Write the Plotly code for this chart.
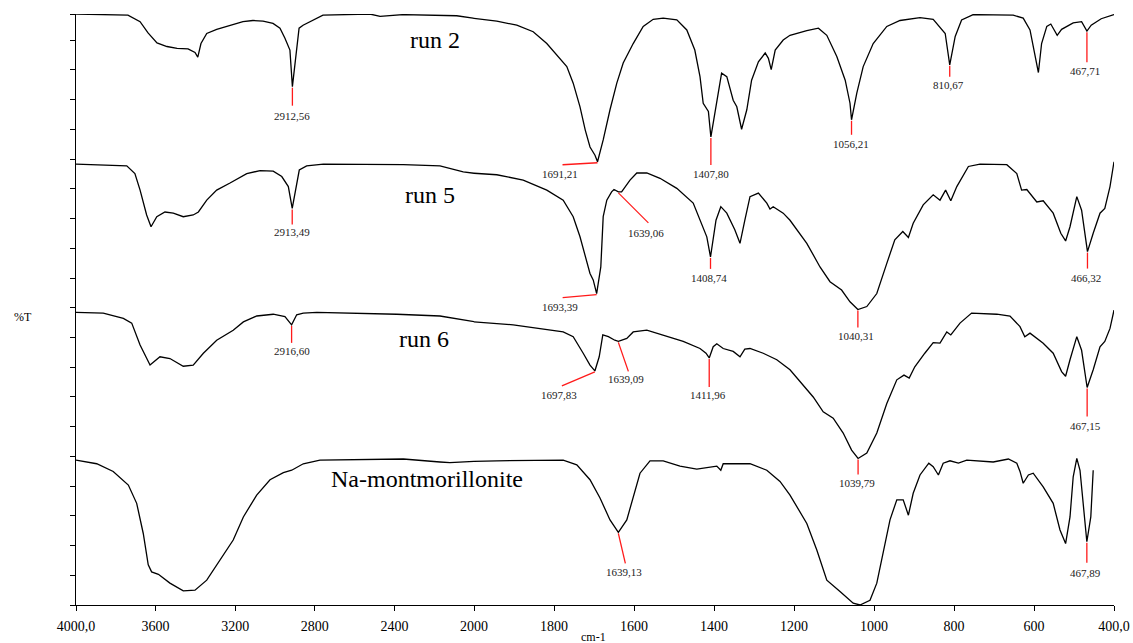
import plotly.graph_objects as go

# ---------------- data (wavenumber cm-1, %T with vertical offsets) ----------------
run2_wn = [4000, 3739, 3678, 3638, 3593, 3543, 3492, 3437, 3402, 3388, 3372, 3343, 3293, 3226, 3161, 3111,
           3060, 3010, 2975, 2950, 2935, 2925, 2912.56, 2891, 2879, 2859, 2824, 2759, 2523, 2472, 2357, 2171,
           2087, 2005, 1943, 1893, 1852, 1818, 1793, 1768, 1752, 1735, 1722, 1710, 1697.5, 1691.21, 1677, 1660,
           1643, 1627, 1602, 1577, 1552, 1527, 1493, 1468, 1448, 1435, 1427, 1421, 1414, 1407.80, 1393, 1381,
           1368, 1352, 1343, 1331, 1318, 1306, 1289, 1272, 1264, 1257, 1247, 1227, 1210, 1168, 1139, 1118, 1093,
           1072, 1060, 1056.21, 1043, 1027, 1002, 968, 935, 885, 852, 831, 822, 810.67, 797, 781, 752, 652, 627,
           610, 598, 589, 581, 568, 558, 550, 542, 531, 502, 481, 467.71, 457, 432, 400]
run2_t = [100.0, 99.8, 98.7, 96.8, 95.1, 94.5, 94.2, 94.1, 93.5, 92.7, 95.0, 96.7, 97.4, 98.0, 98.7, 98.9,
          98.8, 98.4, 97.6, 95.9, 94.5, 93.9, 87.7, 93.9, 97.6, 98.1, 98.7, 99.8, 100.0, 99.6, 99.9, 99.8,
          99.7, 99.3, 98.8, 98.1, 97.0, 95.0, 93.1, 91.1, 88.3, 84.3, 80.4, 77.5, 76.1, 75.0, 78.7, 83.8,
          88.3, 91.7, 95.0, 97.9, 99.1, 99.3, 99.0, 97.3, 93.9, 89.4, 84.9, 84.3, 83.5, 79.2, 85.4, 90.0,
          89.4, 85.4, 84.3, 80.5, 83.8, 88.8, 91.9, 93.4, 92.5, 90.6, 93.9, 95.6, 96.4, 97.2, 97.6, 96.4, 92.8,
          88.8, 84.9, 82.1, 86.6, 91.1, 95.0, 97.9, 98.9, 99.4, 99.1, 97.3, 96.7, 91.4, 96.2, 99.0, 99.9, 99.8, 99.3,
          97.3, 93.4, 90.1, 95.0, 97.9, 98.3, 97.3, 96.4, 97.4, 98.5, 98.7, 97.1, 98.1, 99.2, 99.9]

run5_wn = [4000, 3745, 3704, 3678, 3645, 3623, 3594, 3553, 3511, 3461, 3411, 3385, 3343, 3293, 3226, 3142,
           3075, 3009, 2966, 2933, 2913.49, 2895, 2878, 2841, 2757, 2355, 2171, 2054, 1943, 1877, 1818, 1777,
           1752, 1735, 1722, 1710, 1702, 1693.39, 1683, 1677, 1668, 1656, 1650, 1639.06, 1631, 1610, 1593, 1568,
           1535, 1493, 1452, 1431, 1418, 1408.74, 1395, 1383, 1368, 1348, 1335, 1323, 1310, 1289, 1268, 1260,
           1252, 1227, 1210, 1168, 1135, 1110, 1081, 1060, 1040.31, 1018, 993, 968, 948, 928, 914, 902, 877,
           852, 835, 821, 808, 793, 764, 735, 668, 643, 631, 618, 593, 577, 552, 533, 521, 510, 493, 481,
           466.32, 452, 435, 423, 410, 400]
run5_t = [74.6, 74.3, 73.0, 70.2, 66.0, 64.0, 65.7, 66.5, 66.3, 65.7, 66.0, 66.5, 68.5, 70.2, 71.4, 73.0,
          73.5, 73.4, 72.5, 70.8, 67.1, 70.8, 73.6, 74.3, 74.6, 74.5, 74.3, 73.3, 72.8, 71.9, 70.2, 68.5,
          65.7, 62.3, 58.9, 56.1, 55.0, 52.7, 57.2, 65.7, 68.5, 69.9, 70.3, 69.9, 69.9, 71.9, 73.1, 73.1,
          72.2, 70.5, 68.0, 64.6, 62.3, 58.9, 65.1, 67.4, 66.3, 63.5, 61.2, 65.1, 69.1, 69.7, 68.0, 67.0,
          67.4, 66.3, 65.1, 61.2, 57.2, 54.7, 53.3, 51.3, 50.0, 50.5, 52.7, 57.8, 61.8, 63.2, 62.2, 64.6, 67.7,
          69.4, 68.5, 70.2, 68.4, 70.8, 74.2, 74.6, 74.5, 73.0, 70.2, 70.3, 68.2, 68.4, 66.3, 62.9, 61.6, 64.0, 69.1, 66.8,
          59.8, 62.9, 66.3, 67.1, 70.8, 75.0]

run6_wn = [4000, 3863, 3762, 3720, 3678, 3628, 3578, 3528, 3461, 3411, 3360, 3293, 3210, 3159, 3092, 3009,
           2950, 2916.60, 2891, 2858, 2790, 2388, 2171, 2054, 1902, 1777, 1752, 1727, 1710, 1697.83, 1687, 1678,
           1664, 1648, 1639.09, 1618, 1602, 1568, 1527, 1477, 1435, 1420, 1411.96, 1402, 1393, 1377, 1352, 1335,
           1323, 1310, 1277, 1243, 1210, 1193, 1152, 1127, 1102, 1077, 1056, 1039.79, 1018, 993, 968, 943, 925,
           912, 898, 873, 852, 835, 818, 808, 785, 756, 693, 660, 635, 623, 610, 577, 552, 531, 521, 510, 493,
           481, 467.15, 452, 435, 423, 410, 400]
run6_t = [49.5, 49.4, 48.5, 47.7, 44.0, 40.6, 42.0, 41.7, 40.4, 40.6, 42.6, 44.8, 46.5, 47.9, 48.9, 49.2,
          48.8, 47.4, 49.1, 49.4, 49.5, 49.2, 48.9, 48.2, 47.4, 46.2, 45.4, 42.6, 40.6, 39.6, 42.0, 45.7,
          45.4, 44.8, 44.6, 45.1, 46.2, 46.5, 45.7, 44.6, 43.4, 42.6, 41.8, 43.7, 44.2, 43.4, 42.9, 42.0,
          43.3, 43.4, 42.6, 41.5, 39.8, 38.4, 35.2, 32.7, 31.6, 29.1, 26.2, 24.8, 25.7, 29.1, 34.1, 38.1, 38.9,
          38.4, 40.3, 42.6, 44.4, 44.3, 46.2, 45.7, 47.7, 49.4, 49.2, 48.9, 47.1, 45.4, 46.0, 44.3, 42.6, 39.5, 38.7, 41.5, 45.4,
          43.1, 36.8, 39.8, 43.7, 44.6, 46.8, 49.9]

namt_wn = [4000, 3896, 3813, 3737, 3695, 3662, 3637, 3620, 3586, 3528, 3461, 3402, 3343, 3276, 3210, 3159,
           3092, 3025, 2958, 2916, 2858, 2774, 2355, 2171, 2121, 1943, 1777, 1743, 1710, 1685, 1660, 1639.13,
           1618, 1602, 1585, 1560, 1527, 1485, 1443, 1393, 1383, 1377, 1310, 1268, 1235, 1210, 1168, 1143, 1118,
           1085, 1052, 1035, 1010, 993, 977, 960, 943, 927, 914, 902, 885, 863, 852, 839, 827, 810, 789, 768,
           702, 664, 643, 635, 627, 614, 602, 577, 552, 535, 521, 510, 502, 493, 485, 477, 467.89, 458, 452]
namt_t = [24.5, 23.9, 22.6, 20.3, 17.2, 12.1, 6.8, 5.6, 5.2, 3.7, 2.4, 2.5, 4.2, 7.6, 11.0, 14.9,
          18.6, 21.2, 22.4, 22.8, 23.9, 24.5, 24.7, 24.2, 24.1, 24.4, 24.5, 23.7, 21.2, 18.1, 14.4, 12.3,
          14.4, 18.3, 22.3, 24.4, 24.4, 23.5, 23.0, 23.5, 22.8, 23.9, 23.9, 22.8, 20.9, 18.6, 13.8, 9.3, 4.2,
          2.3, 0.3, 0.0, 0.8, 3.7, 8.7, 14.4, 17.8, 17.8, 15.2, 18.9, 22.0, 24.0, 23.4, 22.0, 24.0, 24.4, 24.0, 24.5,
          24.2, 24.7, 24.0, 22.6, 20.6, 22.0, 22.3, 20.0, 17.2, 12.7, 10.4, 14.9, 21.7, 24.8, 22.8, 17.2, 10.7, 14.9, 22.8]

series_names = ["run 2", "run 5", "run 6", "Na-montmorillonite"]
series_label_pos = [(2196, 95.6), (2221, 69.4), (2251, 45.0), (2236, 21.3)]

# peak labels: (series index, wavenumber, label)
peak_series = [0, 0, 0, 0, 0, 0, 1, 1, 1, 1, 1, 1, 2, 2, 2, 2, 2, 2, 3, 3]
peak_wn = [2912.56, 1691.21, 1407.80, 1056.21, 810.67, 467.71,
           2913.49, 1693.39, 1639.06, 1408.74, 1040.31, 466.32,
           2916.60, 1697.83, 1639.09, 1411.96, 1039.79, 467.15,
           1639.13, 467.89]
peak_text = ["2912,56", "1691,21", "1407,80", "1056,21", "810,67", "467,71",
             "2913,49", "1693,39", "1639,06", "1408,74", "1040,31", "466,32",
             "2916,60", "1697,83", "1639,09", "1411,96", "1039,79", "467,15",
             "1639,13", "467,89"]
# leader line end offsets (px, +down) and label centre offsets (px, +down)
line_dx = [0, -35, 0, 0, 0, 0, 0, -34, 30, 0, 0, 0, 0, -33, 10, 0, 0, 0, 7, 0]
line_dy = [19, 3, 28, 15, 12, 31, 16, 4, 31, 12, 18, 17, 18, 15, 30, 29, 16, 29, 31, 21]
lab_dx = [0, -38, 0, -1, -1, -2, 0, -37, 28, -2, -2, -1, 0, -36, 8, -1, -1, -2, 6, -1]
lab_dy = [29, 12, 37, 24, 20, 40, 24, 13, 41, 21, 26, 26, 26, 24, 38, 37, 25, 38, 40, 31]

xtick_hi = [4000, 3600, 3200, 2800, 2400]
xtick_hi_text = ["4000,0", "3600", "3200", "2800", "2400"]
xtick_lo = [2000, 1800, 1600, 1400, 1200, 1000, 800, 600, 400]
xtick_lo_text = ["2000", "1800", "1600", "1400", "1200", "1000", "800", "600", "400,0"]

# ---------------- figure ----------------
SERIF = "Liberation Serif"
BREAK = 2000
split = 398 / 1038

all_wn = [run2_wn, run5_wn, run6_wn, namt_wn]
all_t = [run2_t, run5_t, run6_t, namt_t]

fig = go.Figure()
for wn, t in zip(all_wn, all_t):
    hi = [i for i, w in enumerate(wn) if w >= BREAK]
    lo = [i for i, w in enumerate(wn) if w <= BREAK]
    hi_idx = hi + ([lo[0]] if lo and lo[0] not in hi else [])
    lo_idx = ([hi[-1]] if hi and hi[-1] not in lo else []) + lo
    fig.add_trace(go.Scatter(x=[wn[i] for i in hi_idx], y=[t[i] for i in hi_idx], mode="lines",
                             line=dict(color="black", width=1.3), xaxis="x", yaxis="y",
                             showlegend=False, hoverinfo="skip"))
    fig.add_trace(go.Scatter(x=[wn[i] for i in lo_idx], y=[t[i] for i in lo_idx], mode="lines",
                             line=dict(color="black", width=1.3), xaxis="x2", yaxis="y",
                             showlegend=False, hoverinfo="skip"))

shapes = []
annotations = []
for k in range(len(peak_wn)):
    s = peak_series[k]
    w = peak_wn[k]
    t = all_t[s][all_wn[s].index(w)]
    xr = "x" if w > BREAK else "x2"
    shapes.append(dict(type="line", xref=xr, yref="y", xsizemode="pixel", ysizemode="pixel",
                       xanchor=w, yanchor=t, x0=0, x1=line_dx[k], y0=-1, y1=-line_dy[k],
                       line=dict(color="#ff1a1a", width=1.3)))
    annotations.append(dict(x=w, y=t, xref=xr, yref="y", text=peak_text[k], showarrow=False,
                            xshift=lab_dx[k], yshift=-lab_dy[k], xanchor="center", yanchor="middle",
                            font=dict(family=SERIF, size=11, color="#222222")))

for name, (lx, ly) in zip(series_names, series_label_pos):
    annotations.append(dict(x=lx, y=ly, xref="x", yref="y", text=name, showarrow=False,
                            xanchor="center", yanchor="middle",
                            font=dict(family=SERIF, size=24, color="black")))

annotations.append(dict(x=(23 - 76) / 1038, y=(605 - 317) / 591, xref="paper", yref="paper", text="%T",
                        showarrow=False, xanchor="center", yanchor="middle",
                        font=dict(family=SERIF, size=12, color="black")))
annotations.append(dict(x=(593 - 76) / 1038, y=(605 - 637) / 591, xref="paper", yref="paper", text="cm-1",
                        showarrow=False, xanchor="center", yanchor="middle",
                        font=dict(family=SERIF, size=12, color="black")))

axis_common = dict(showline=True, linecolor="black", linewidth=1, ticks="outside", ticklen=5,
                   tickcolor="black", showgrid=False, zeroline=False, automargin=False,
                   tickfont=dict(family=SERIF, size=14, color="black"), tickmode="array",
                   ticklabelstandoff=3)

fig.update_layout(
    width=1133, height=643,
    margin=dict(l=76, r=19, t=14, b=38),
    paper_bgcolor="white", plot_bgcolor="white",
    font=dict(family=SERIF, color="black"),
    xaxis=dict(domain=[0, split], range=[4000, BREAK], anchor="y",
               tickvals=xtick_hi, ticktext=xtick_hi_text, **axis_common),
    xaxis2=dict(domain=[split, 1], range=[BREAK, 400], anchor="y",
                tickvals=xtick_lo, ticktext=xtick_lo_text, **axis_common),
    yaxis=dict(range=[0, 100], showline=True, linecolor="black", linewidth=1, ticks="outside",
               ticklen=5, tickcolor="black", showgrid=False, zeroline=False, showticklabels=False,
               tickmode="array", tickvals=[round(5.03 * i, 2) for i in range(20)] + [100],
               anchor="x", automargin=False),
    shapes=shapes,
    annotations=annotations,
)

fig.write_html("out.html", config={"displayModeBar": False},
               post_script="document.body.style.margin='0px';document.body.style.overflow='hidden';")
